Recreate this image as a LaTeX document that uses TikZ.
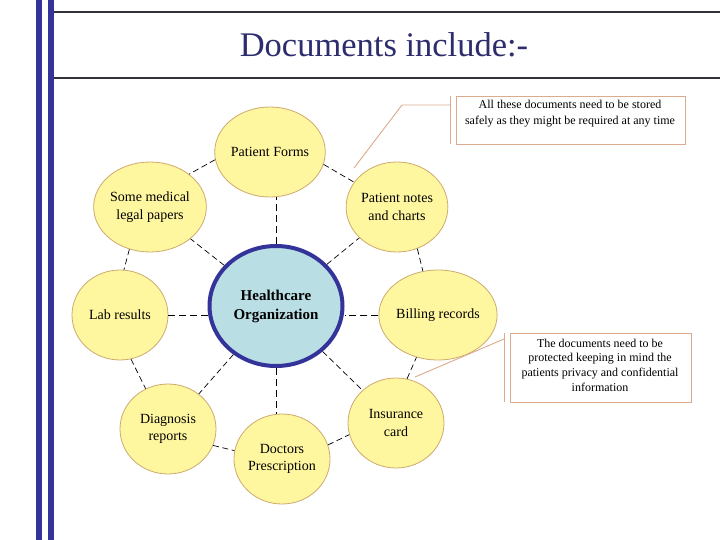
\documentclass[tikz,border=0pt]{standalone}
\usepackage{fontspec}
\setmainfont{Liberation Serif}
\usetikzlibrary{shapes.geometric}
\definecolor{barblue}{RGB}{51,51,153}
\definecolor{titleblue}{RGB}{45,45,110}
\definecolor{ruleline}{RGB}{50,50,60}
\definecolor{satfill}{RGB}{255,247,160}
\definecolor{satdraw}{RGB}{205,170,110}
\definecolor{hubfill}{RGB}{185,222,228}
\definecolor{callout}{RGB}{220,170,140}
\tikzset{
  sat/.style={ellipse, draw=satdraw, fill=satfill, line width=0.8pt,
    minimum width=96pt, minimum height=90pt, inner sep=0pt, align=center,
    font=\fontsize{14}{17.5}\selectfont},
  hub/.style={ellipse, draw=barblue, fill=hubfill, line width=4pt,
    minimum width=133pt, minimum height=120pt, inner sep=0pt, align=center,
    font=\fontsize{15}{19}\selectfont\bfseries},
  conn/.style={draw=black, line width=0.8pt, dash pattern=on 7pt off 4pt},
  ring/.style={draw=black, line width=0.7pt, dash pattern=on 6pt off 3.5pt},
  cbox/.style={draw=callout, line width=0.9pt, fill=white, inner sep=0pt},
  cline/.style={draw=callout, line width=0.9pt},
  ctext/.style={align=center, inner sep=0pt, font=\fontsize{12}{15.5}\selectfont}
}
\begin{document}
\begin{tikzpicture}[x=1pt,y=-1pt]
\useasboundingbox[fill=white] (0,0) rectangle (720,540);
% left bars
\fill[barblue] (36,0) rectangle (42,540);
\fill[barblue] (48,0) rectangle (54,540);
% rules
\draw[ruleline, line width=1.3pt] (54,12) -- (720,12);
\draw[ruleline, line width=1.3pt] (54,78) -- (720,78);
% title
\node[text=titleblue, font=\fontsize{34.5}{40}\selectfont] (title) at (384,45) {Documents include:-};

% nodes
\node[hub] (hc) at (276,306) {Healthcare\\Organization};
\node[sat] (pf) at (270,152) {Patient Forms};
\node[sat] (sm) at (150,207) {Some medical\\legal papers};
\node[sat] (pn) at (397,207) {Patient notes\\and charts};
\node[sat] (lab) at (120,315) {Lab results};
\node[sat] (bill) at (438,315) {Billing records};
\node[sat] (diag) at (168,429) {Diagnosis\\reports};
\node[sat] (doc) at (282,459) {Doctors\\Prescription};
\node[sat] (ins) at (396,423) {Insurance\\card};

% spokes
\draw[conn] (hc.north) -- (hc.north |- pf.south);
\draw[conn] (hc.south) -- (hc.south |- doc.north);
\draw[conn] (lab.east) -- (hc.west |- lab.east);
\draw[conn] (bill.west) -- (hc.east |- bill.west);
\draw[ring] (hc) -- (pn);
\draw[ring] (hc) -- (sm);
\draw[ring] (hc) -- (diag);
\draw[ring] (hc) -- (ins);

% ring
\draw[ring] (pf.347) -- (pn.150);
\draw[ring] (pf.188) -- (sm.40);
\draw[ring] (sm.244) -- (lab.85);
\draw[ring] (lab.284) -- (diag.119);
\draw[ring] (diag.340) -- (doc.170);
\draw[ring] (doc.17) -- (ins.194);
\draw[ring] (ins.76) -- (bill.243);
\draw[ring] (pn.296) -- (bill.109);

% callout 1
\node[cbox, minimum width=229pt, minimum height=48pt] (c1) at (570.5,120) {};
\node[ctext, font=\fontsize{12}{16}\selectfont] (c1t) at (570,114) {All these documents need to be stored\\safely as they might be required at any time};
\coordinate (c1a) at (450,96);
\coordinate (c1b) at (450,144);
\coordinate (c1c) at (450,105);
\coordinate (c1d) at (402,105);
\coordinate (c1e) at (354,168);
\draw[cline] (c1a) -- (c1b);
\draw[cline] (c1c) -- (c1d) -- (c1e);

% callout 2
\node[cbox, minimum width=181pt, minimum height=69pt] (c2) at (600.5,367.5) {};
\node[ctext, font=\fontsize{12}{14.7}\selectfont] (c2t) at (600,365) {The documents need to be\\protected keeping in mind the\\patients privacy and confidential\\information};
\coordinate (c2a) at (504,333);
\coordinate (c2b) at (504,402);
\coordinate (c2c) at (504,339);
\coordinate (c2e) at (415,377);
\draw[cline] (c2a) -- (c2b);
\draw[cline] (c2c) -- (c2e);
\end{tikzpicture}
\end{document}
